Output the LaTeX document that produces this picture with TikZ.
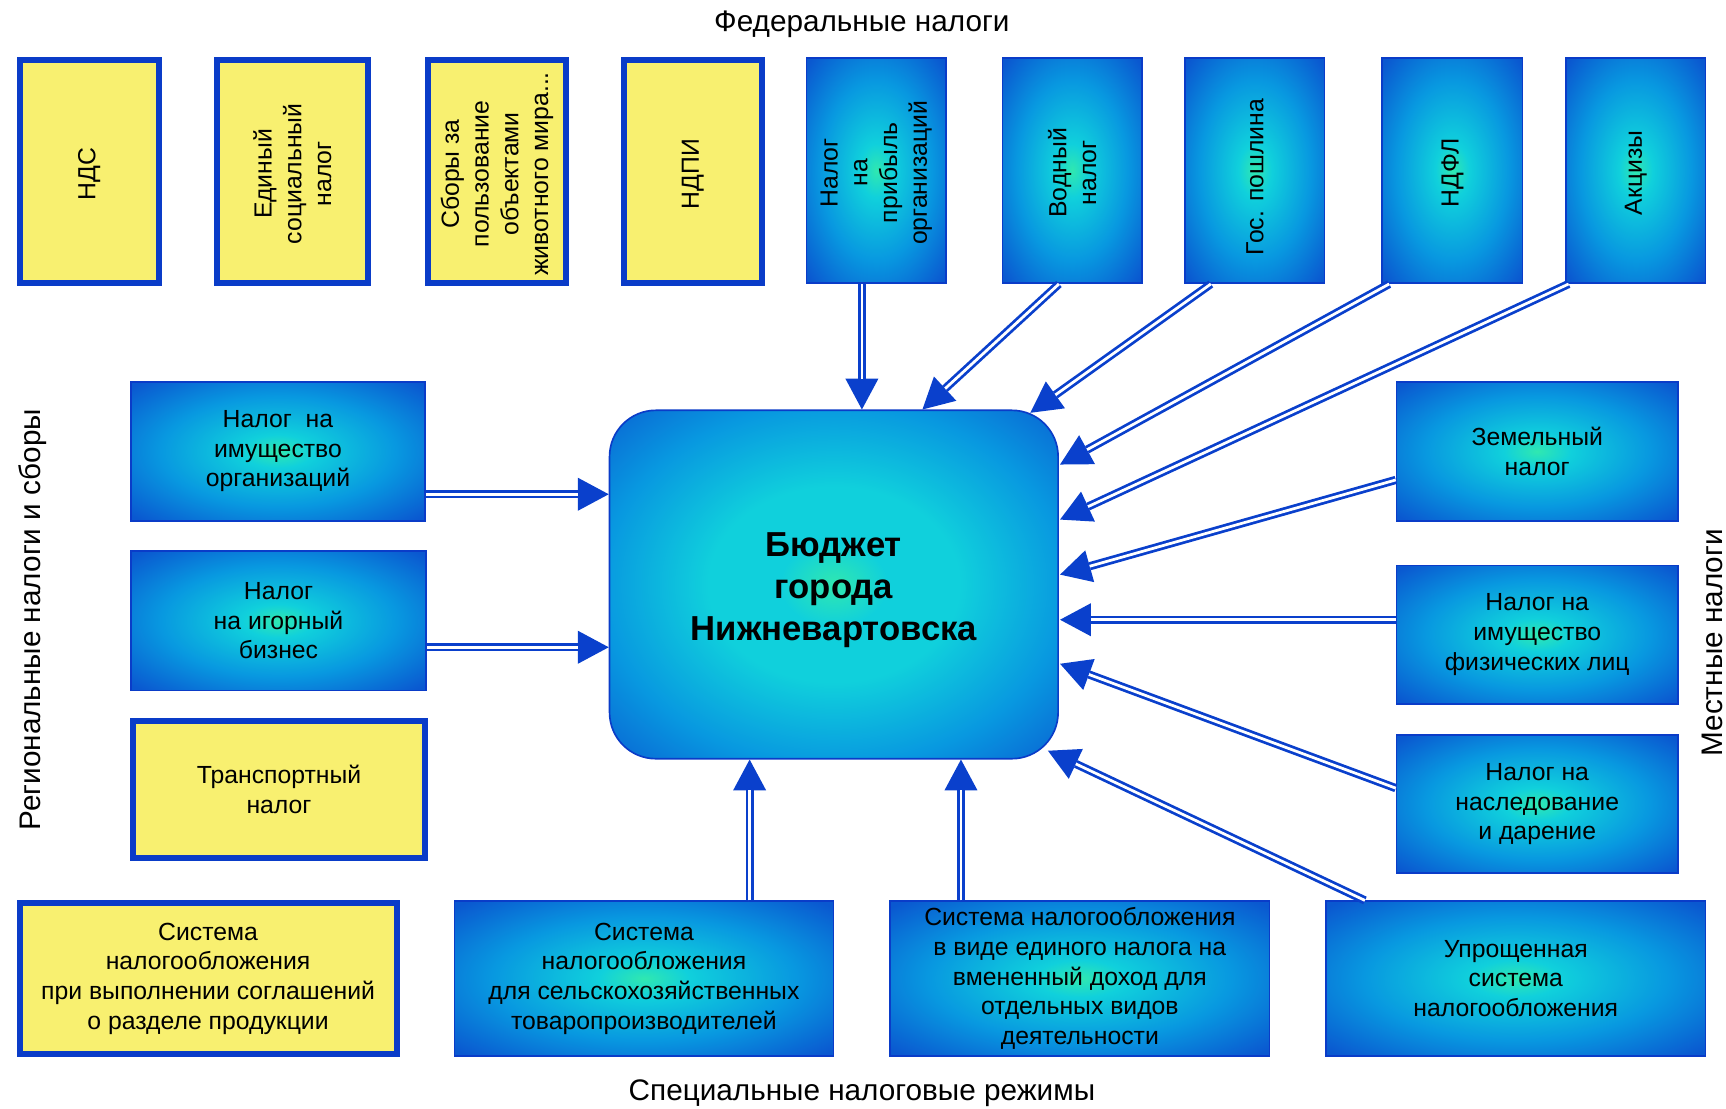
\documentclass[tikz,border=0pt]{standalone}
\usepackage{fontspec}
\setmainfont{Liberation Sans}
\usetikzlibrary{arrows.meta,calc}
\definecolor{bedge}{HTML}{0A3CC8}
\definecolor{ylw}{HTML}{F8F070}
\definecolor{acol}{HTML}{0A40CC}
\definecolor{cgreen}{HTML}{30E8B0}
\definecolor{ccyan}{HTML}{10D0DC}
\definecolor{cmid}{HTML}{0898E0}
\definecolor{cblue}{HTML}{0A58D0}
\definecolor{cedge}{HTML}{0A4CC8}
\pgfdeclareradialshading{boxshade}{\pgfpoint{0bp}{0bp}}{%
  color(0bp)=(cgreen); color(6bp)=(ccyan); color(20bp)=(cmid);
  color(34bp)=(cblue); color(50bp)=(cedge)}
\pgfdeclareradialshading{budshade}{\pgfpoint{0bp}{0bp}}{%
  color(0bp)=(cgreen); color(6bp)=(ccyan); color(14bp)=(ccyan); color(26bp)=(cmid);
  color(38bp)=(cblue); color(50bp)=(cedge)}
\tikzset{
  ybox/.style={draw=bedge, line width=5.5pt, fill=ylw, inner sep=0pt},
  bbox/.style={draw=bedge, line width=1.5pt, shade, shading=boxshade, inner sep=0pt},
  txt/.style={font=\fontsize{22.5}{27}\selectfont, align=center, text=black, inner sep=0pt},
  vtxt/.style={txt, rotate=90},
  lbl/.style={font=\fontsize{27}{30}\selectfont, inner sep=0pt, text=black},
  arr/.style={draw=acol, line width=7.5pt, -{Triangle[length=28pt,width=30pt,line width=0pt]},
    postaction={draw=white, line width=2.5pt, -, shorten >=28pt}},
}
\begin{document}
\begin{tikzpicture}[x=1pt,y=-1pt]
\useasboundingbox (0,0) rectangle (1568,1007);

% labels
\node[lbl] (lfed) at (783,22) {Федеральные налоги};
\node[lbl] (lspec) at (783,993) {Специальные налоговые режимы};
\node[lbl, rotate=90] (lreg) at (30,563) {Региональные налоги и сборы};
\node[lbl, rotate=90] (lmest) at (1556,584) {Местные налоги};

% top row
\node[ybox, minimum width=126.5, minimum height=202.5] (nds) at (81,156) {};
\node[vtxt] (tnds) at ($(nds.center)+(0,2)$) {НДС};
\node[ybox, minimum width=137.5, minimum height=202.5] (esn) at (265.5,156) {};
\node[vtxt] (tesn) at ($(esn.center)+(0,2)$) {Единый\\социальный\\налог};
\node[ybox, minimum width=125.5, minimum height=202.5] (sbor) at (451.5,156) {};
\node[vtxt] (tsbor) at ($(sbor.center)+(0,2)$) {Сборы за\\пользование\\объектами\\животного мира...};
\node[ybox, minimum width=125.5, minimum height=202.5] (ndpi) at (629.5,156) {};
\node[vtxt] (tndpi) at ($(ndpi.center)+(0,2)$) {НДПИ};

\node[bbox, minimum width=126.5, minimum height=204.5] (nalprib) at (796,155) {};
\node[vtxt] (tnalprib) at ($(nalprib.center)+(0,2)$) {Налог\\на\\прибыль\\организаций};
\node[bbox, minimum width=126.5, minimum height=204.5] (vod) at (974,155) {};
\node[vtxt] (tvod) at ($(vod.center)+(0,2)$) {Водный\\налог};
\node[bbox, minimum width=126.5, minimum height=204.5] (gos) at (1140,155) {};
\node[vtxt] (tgos) at ($(gos.center)+(0,6)$) {Гос. пошлина};
\node[bbox, minimum width=127.5, minimum height=204.5] (ndfl) at (1319.5,155) {};
\node[vtxt] (tndfl) at ($(ndfl.center)+(0,2)$) {НДФЛ};
\node[bbox, minimum width=126.5, minimum height=204.5] (akc) at (1486,155) {};
\node[vtxt] (takc) at ($(akc.center)+(0,2)$) {Акцизы};

% left
\node[bbox, txt, minimum width=267.5, minimum height=126.5] (imorg) at (252.5,410) {Налог\ \ на\\имущество\\организаций};
\node[bbox, txt, minimum width=268.5, minimum height=126.5] (igor) at (253,564) {Налог\\на игорный\\бизнес};
\node[ybox, txt, minimum width=265.5, minimum height=124.5] (transp) at (253.5,717) {Транспортный\\налог};
\node[ybox, txt, minimum width=342.5, minimum height=136.5] (srp) at (189,889) {Система\\налогообложения\\при выполнении соглашений\\о разделе продукции};

% bottom
\node[bbox, txt, minimum width=344.5, minimum height=140.5] (selh) at (585,889) {Система\\налогообложения\\для сельскохозяйственных\\товаропроизводителей};
\node[bbox, txt, minimum width=344.5, minimum height=140.5] (envd) at (981,889) {Система налогообложения\\в виде единого налога на\\вмененный доход для\\отдельных видов\\деятельности};
\node[bbox, txt, minimum width=344.5, minimum height=140.5] (usn) at (1377,889) {Упрощенная\\система\\налогообложения};

% right
\node[bbox, txt, minimum width=255.5, minimum height=126.5] (zem) at (1396.5,410) {Земельный\\налог};
\node[bbox, txt, minimum width=255.5, minimum height=125.5] (imfiz) at (1396.5,576.5) {Налог на\\имущество\\физических лиц};
\node[bbox, txt, minimum width=255.5, minimum height=125.5] (nasl) at (1396.5,730.5) {Налог на\\наследование\\и дарение};

% centre
\node[draw=bedge, line width=1.5pt, shade, shading=budshade, rounded corners=42pt,
      minimum width=407.5, minimum height=316.5, inner sep=0pt] (bud) at (757.5,531) {};
\node[font=\bfseries\fontsize{31.5}{38}\selectfont, align=center, inner sep=0pt] (tbud)
      at ($(bud.center)+(0,5)$) {Бюджет\\города\\Нижневартовска};

% arrows
\draw[arr] ($(nalprib.south)+(-13,0)$) -- ($(bud.north west)+(230,0)$);
\draw[arr] ($(vod.south)+(-12,0)$) -- ($(bud.north west)+(285,0)$);
\draw[arr] ($(gos.south)+(-40,0)$) -- ($(bud.north east)+(-26,3)$);
\draw[arr] ($(ndfl.south west)+(7,0)$) -- ($(bud.north east)+(1,50)$);
\draw[arr] ($(akc.south west)+(3,0)$) -- ($(bud.north east)+(1,100)$);
\draw[arr] ($(zem.west)+(0,26)$) -- ($(bud.north east)+(1,150)$);
\draw[arr] ($(imfiz.west)+(0,-13.5)$) -- ($(bud.north east)+(1,191)$);
\draw[arr] ($(nasl.west)+(0,-14.5)$) -- ($(bud.north east)+(1,231)$);
\draw[arr] ($(usn.north west)+(36,0)$) -- ($(bud.south east)+(-10,-8)$);
\draw[arr] ($(envd.north)+(-108,0)$) -- ($(bud.south west)+(320,0)$);
\draw[arr] ($(selh.north)+(96,0)$) -- ($(bud.south west)+(128,0)$);
\draw[arr] ($(imorg.east)+(0,39)$) -- ($(bud.north west)+(0,77)$);
\draw[arr] ($(igor.east)+(0,24)$) -- ($(bud.north west)+(0,216)$);
\end{tikzpicture}
\end{document}
